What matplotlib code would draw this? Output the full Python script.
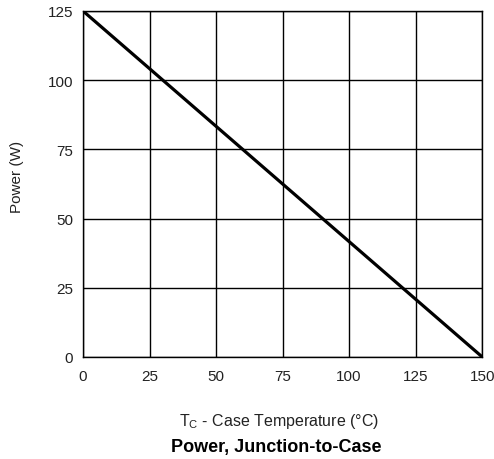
import matplotlib
matplotlib.use('Agg')
import matplotlib.pyplot as plt

plt.rcParams['font.family'] = ['Liberation Sans', 'DejaVu Sans']

temp_c = [0, 150]
power_w = [125, 0]
x_ticks = [0, 25, 50, 75, 100, 125, 150]
y_ticks = [0, 25, 50, 75, 100, 125]

fig = plt.figure(figsize=(4.94, 4.60), dpi=100)
ax = fig.add_axes([0.168, 0.222, 0.808, 0.752])

ax.plot(temp_c, power_w, color='black', linewidth=2.3, solid_capstyle='butt')
ax.set_xlim(0, 150)
ax.set_ylim(0, 125)
ax.set_xticks(x_ticks)
ax.set_yticks(y_ticks)
ax.tick_params(length=0, labelsize=11, labelcolor='#222222')
ax.tick_params(axis='x', pad=9)
ax.tick_params(axis='y', pad=7)
ax.grid(True, color='black', linewidth=1.0)
for s in ax.spines.values():
    s.set_linewidth(1.0)

fig.text(0.034, 0.615, 'Power (W)', rotation=90, ha='center', va='center',
         fontsize=11, color='#222222')
fig.text(0.564, 0.083, r'T$_\mathregular{C}$ - Case Temperature (°C)',
         ha='center', va='center', fontsize=11.5, color='#222222')
fig.text(0.56, 0.028, 'Power, Junction-to-Case', ha='center', va='center',
         fontsize=13, fontweight='bold')

plt.savefig('out.png', dpi=100)
